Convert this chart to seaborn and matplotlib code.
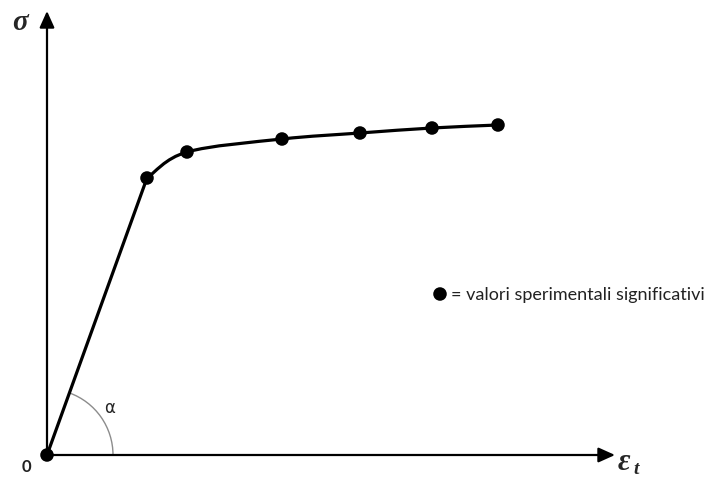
import numpy as np
import matplotlib
matplotlib.use("Agg")
import matplotlib.pyplot as plt
from matplotlib.path import Path
from matplotlib.patches import PathPatch, Arc
import seaborn as sns
import pandas as pd

# Stress-strain points (strain, stress) in drawing units
strain = [0, 100, 140, 235, 313, 385, 451]
stress = [0, 277, 303, 316, 322, 327, 330]
legend_text = "= valori sperimentali significativi"

sns.set_style("white")
plt.rcParams['font.family'] = ['Lato', 'DejaVu Sans']

fig = plt.figure(figsize=(7.11, 4.85), dpi=100)
ax = fig.add_axes([0, 0, 1, 1])
ax.set_xlim(-47, 664)
ax.set_ylim(-29, 456)
ax.axis("off")

df = pd.DataFrame({"strain": strain, "stress": stress})

# Elastic branch: straight line from origin to the first yield point
sns.lineplot(data=df.iloc[:2], x="strain", y="stress", color="black",
             linewidth=2.3, ax=ax, sort=False)

# Plastic branch: smooth Catmull-Rom curve through the remaining points
pts = np.column_stack([strain, stress]).astype(float)
verts = [tuple(pts[1])]
codes = [Path.MOVETO]
for i in range(1, len(pts) - 1):
    p0 = pts[i - 1] if i > 1 else pts[i] - (pts[i + 1] - pts[i]) * 0.2
    p1, p2 = pts[i], pts[i + 1]
    p3 = pts[i + 2] if i + 2 < len(pts) else p2 + (p2 - p1)
    c1 = p1 + (p2 - p0) / 6.0
    c2 = p2 - (p3 - p1) / 6.0
    verts += [tuple(c1), tuple(c2), tuple(p2)]
    codes += [Path.CURVE4] * 3
ax.add_patch(PathPatch(Path(verts, codes), fill=False, edgecolor="black",
                       linewidth=2.3, capstyle="round"))

# Experimental points
sns.scatterplot(data=df, x="strain", y="stress", color="black", s=95,
                edgecolor="none", ax=ax, zorder=5)

# Axes with arrowheads
ax.annotate("", xy=(0, 444), xytext=(0, 0),
            arrowprops=dict(arrowstyle="-|>,head_length=1.0,head_width=0.45",
                            color="black", lw=1.6, shrinkA=0, shrinkB=0))
ax.annotate("", xy=(568, 0), xytext=(0, 0),
            arrowprops=dict(arrowstyle="-|>,head_length=1.0,head_width=0.45",
                            color="black", lw=1.6, shrinkA=0, shrinkB=0))

# Slope angle arc
angle = np.degrees(np.arctan2(stress[1], strain[1]))
ax.add_patch(Arc((0, 0), 132, 132, theta1=0, theta2=angle,
                 color="#8c8c8c", lw=1.0))
ax.text(63, 48, "α", fontsize=12, ha="center", va="center",
        family="DejaVu Sans")

# Labels
ax.text(-21, -11, "0", fontsize=12, ha="center", va="center",
        fontweight="bold", color="#222222")
ax.text(-27, 434, "σ", fontsize=21, ha="center", va="center",
        family="Liberation Serif", fontweight="bold", fontstyle="italic")
ax.text(571, -7, "ε", fontsize=22, ha="left", va="center",
        family="Liberation Serif", fontweight="bold", fontstyle="italic")
ax.text(586, -14, "t", fontsize=14, ha="left", va="center",
        family="Liberation Serif", fontweight="bold", fontstyle="italic")

# Legend for experimental points
ax.scatter([393], [161], s=95, color="black", edgecolor="none")
ax.text(404, 161, legend_text, fontsize=13, ha="left", va="center",
        color="#222222")

fig.savefig("out.png", dpi=100)
